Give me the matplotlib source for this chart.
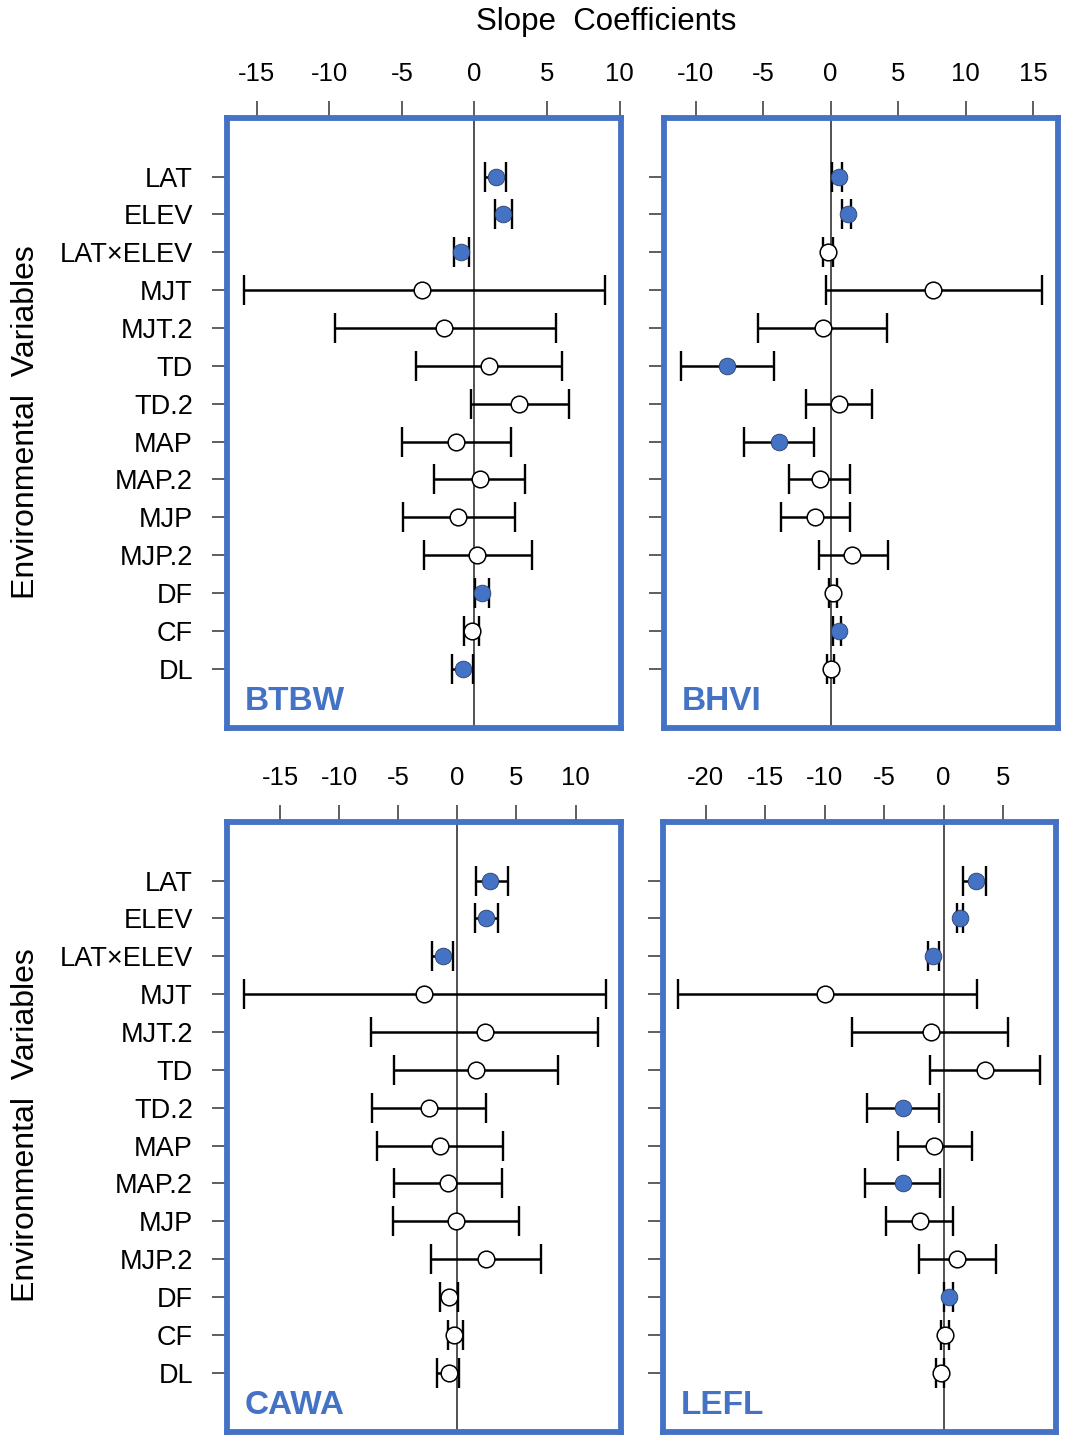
import numpy as np
import matplotlib.pyplot as plt

plt.rcParams['font.family'] = ['Liberation Sans', 'DejaVu Sans']
plt.rcParams['axes.unicode_minus'] = False

variables = ['LAT', 'ELEV', 'LAT×ELEV', 'MJT', 'MJT.2', 'TD', 'TD.2',
             'MAP', 'MAP.2', 'MJP', 'MJP.2', 'DF', 'CF', 'DL']

# slope estimates with lower / upper interval bounds, per species
btbw_est = [1.5, 2.0, -0.9, -3.6, -2.1, 1.0, 3.1, -1.3, 0.4, -1.1, 0.2, 0.55, -0.2, -0.8]
btbw_lo = [0.7, 1.4, -1.4, -15.9, -9.6, -4.0, -0.25, -5.0, -2.8, -4.9, -3.5, 0.05, -0.75, -1.55]
btbw_hi = [2.2, 2.6, -0.4, 9.0, 5.6, 6.0, 6.5, 2.5, 3.5, 2.8, 4.0, 1.0, 0.3, -0.1]
btbw_sig = [1, 1, 1, 0, 0, 0, 0, 0, 0, 0, 0, 1, 0, 1]

bhvi_est = [0.6, 1.25, -0.2, 7.6, -0.6, -7.7, 0.6, -3.8, -0.8, -1.15, 1.6, 0.15, 0.6, 0.0]
bhvi_lo = [0.1, 0.85, -0.6, -0.35, -5.35, -11.1, -1.85, -6.4, -3.1, -3.7, -0.85, -0.1, 0.15, -0.25]
bhvi_hi = [0.85, 1.5, 0.15, 15.7, 4.2, -4.2, 3.05, -1.2, 1.45, 1.45, 4.25, 0.45, 0.8, 0.25]
bhvi_sig = [1, 1, 0, 0, 0, 1, 0, 1, 0, 0, 0, 0, 1, 0]

cawa_est = [2.8, 2.4, -1.25, -2.8, 2.3, 1.6, -2.4, -1.5, -0.8, -0.1, 2.4, -0.7, -0.25, -0.7]
cawa_lo = [1.6, 1.45, -2.15, -18.1, -7.3, -5.35, -7.2, -6.8, -5.35, -5.45, -2.25, -1.45, -0.8, -1.7]
cawa_hi = [4.25, 3.45, -0.4, 12.6, 11.9, 8.55, 2.4, 3.85, 3.75, 5.2, 7.1, 0.05, 0.5, 0.1]
cawa_sig = [1, 1, 1, 0, 0, 0, 0, 0, 0, 0, 0, 0, 0, 0]

lefl_est = [2.7, 1.35, -0.9, -10.0, -1.05, 3.45, -3.4, -0.8, -3.4, -2.0, 1.1, 0.45, 0.15, -0.2]
lefl_lo = [1.6, 1.1, -1.3, -22.3, -7.7, -1.15, -6.45, -3.8, -6.6, -4.85, -2.1, 0.05, -0.25, -0.6]
lefl_hi = [3.6, 1.65, -0.35, 2.8, 5.45, 8.1, -0.4, 2.4, -0.3, 0.8, 4.4, 0.8, 0.45, 0.05]
lefl_sig = [1, 1, 1, 0, 0, 0, 1, 0, 1, 0, 0, 1, 0, 0]

species = ['BTBW', 'BHVI', 'CAWA', 'LEFL']
estimates = [btbw_est, bhvi_est, cawa_est, lefl_est]
lowers = [btbw_lo, bhvi_lo, cawa_lo, lefl_lo]
uppers = [btbw_hi, bhvi_hi, cawa_hi, lefl_hi]
significant = [btbw_sig, bhvi_sig, cawa_sig, lefl_sig]
x_ticks = [[-15, -10, -5, 0, 5, 10], [-10, -5, 0, 5, 10, 15],
           [-15, -10, -5, 0, 5, 10], [-20, -15, -10, -5, 0, 5]]
x_limits = [(-17.05, 10.1), (-12.35, 16.85), (-19.5, 13.85), (-23.6, 9.45)]

BLUE = '#4472C4'
W, H = 1067, 1437

fig = plt.figure(figsize=(W / 100, H / 100), dpi=100)

# panel boxes in pixels: left, top, right, bottom
boxes = [(227, 118, 621, 728), (664, 118, 1058, 728),
         (227, 822, 621, 1432), (663, 822, 1056, 1432)]

y = np.arange(len(variables))

for k in range(4):
    l, t, r, b = boxes[k]
    ax = fig.add_axes([l / W, 1 - b / H, (r - l) / W, (b - t) / H])
    est = np.array(estimates[k])
    lo = np.array(lowers[k])
    hi = np.array(uppers[k])
    sig = np.array(significant[k], dtype=bool)

    ax.axvline(0, color='#333333', lw=1.2, zorder=1)
    ax.errorbar(est, y, xerr=[est - lo, hi - est], fmt='none', ecolor='black',
                elinewidth=1.8, capsize=10.5, capthick=1.7, zorder=2)
    ax.plot(est[~sig], y[~sig], 'o', ms=12, mfc='white', mec='black', mew=1.1, zorder=3)
    ax.plot(est[sig], y[sig], 'o', ms=12, mfc=BLUE, mec='#2a3f66', mew=0.6, zorder=3)

    ax.set_xlim(*x_limits[k])
    ax.set_ylim(len(variables) - 1 + 1.57, -1.55)
    ax.set_xticks(x_ticks[k])
    ax.xaxis.set_ticks_position('top')
    ax.tick_params(axis='x', direction='out', length=12, width=1.1, pad=11,
                   labelsize=18.5, color='#333333')
    ax.set_yticks(y)
    ax.tick_params(axis='y', direction='out', length=10.5, width=1.1, pad=14,
                   labelsize=19.5, color='#333333')
    if k % 2 == 0:
        ax.set_yticklabels(variables)
    else:
        ax.set_yticklabels([])

    for s in ax.spines.values():
        s.set_color(BLUE)
        s.set_linewidth(4.2)
        s.set_zorder(5)

    ax.text(18 / (r - l), 18 / (b - t), species[k], transform=ax.transAxes,
            color=BLUE, fontsize=24, fontweight='bold', ha='left', va='baseline')

fig.text(606 / W, 1 - 22 / H, 'Slope  Coefficients', fontsize=22.5, ha='center', va='center')
for yc in (422, 1125):
    fig.text(26 / W, 1 - yc / H, 'Environmental  Variables', fontsize=23,
             rotation=90, ha='center', va='center')

fig.savefig('out.png', dpi=100)
